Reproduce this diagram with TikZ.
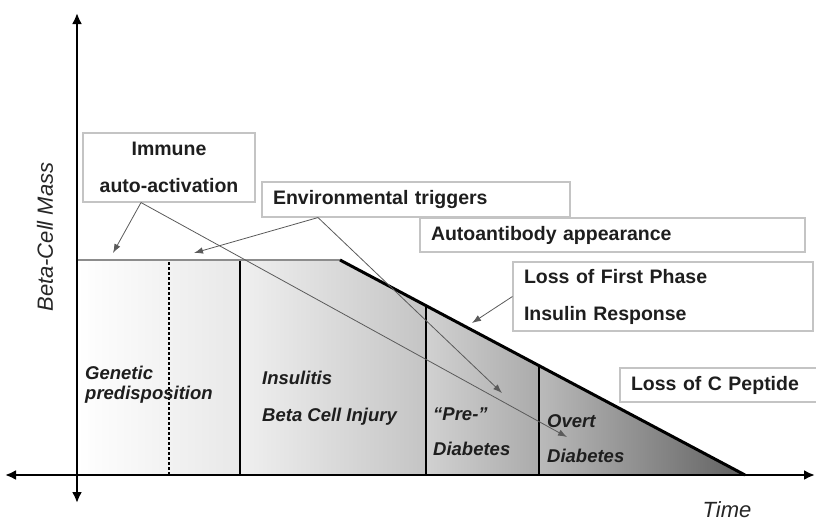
\documentclass[tikz,border=0pt]{standalone}
\usepackage{fontspec}
\setmainfont{Liberation Sans}
\usetikzlibrary{arrows.meta, positioning}
\definecolor{boxline}{HTML}{C4C4C4}
\definecolor{pointer}{HTML}{5A5A5A}
\definecolor{labeltext}{HTML}{1E1E1E}

\begin{document}
\begin{tikzpicture}[x=1pt, y=-1pt,
    axis/.style={line width=2.6pt, {Latex[length=11pt,width=10pt]}-{Latex[length=11pt,width=10pt]}},
    eventbox/.style={draw=boxline, line width=1.1pt, fill=white, inner xsep=11pt, text=labeltext, font=\bfseries\fontsize{19.5}{37}\selectfont},
    stagelabel/.style={anchor=north west, inner sep=0pt, align=left, text=labeltext, font=\bfseries\itshape\fontsize{18.5}{37}\selectfont},
    pointer/.style={draw=pointer, line width=0.8pt, -{Latex[length=9pt,width=6.5pt]}},
    divider/.style={line width=1.3pt}]

    \useasboundingbox (0,0) rectangle (816,522);

    \shade[left color=white, right color=black!9] (77,260) rectangle (240,475);
    \shade[left color=black!6, right color=black!23] (240,260) -- (340,260) -- (426,305.7) -- (426,475) -- (240,475) -- cycle;
    \shade[left color=black!18, right color=black!33] (426,305.7) -- (539,365.6) -- (539,475) -- (426,475) -- cycle;
    \shade[left color=black!27, right color=black!62] (539,365.6) -- (745,475) -- (539,475) -- cycle;

    \draw[divider, line width=2pt, dash pattern=on 2.5pt off 2.5pt] (169,262) -- (169,475);
    \draw[divider] (240,260) -- (240,475);
    \draw[divider] (426,305.7) -- (426,475);
    \draw[divider] (539,365.6) -- (539,475);

    \draw[line width=2pt, black!45] (77,260) -- (340,260);
    \draw[line width=3pt, line join=round] (340,260) -- (745,475);

    \draw[axis] (5,475) -- (815,475);
    \draw[axis] (77,503) -- (77,13);

    \node[rotate=90, text=black!85, font=\itshape\fontsize{22}{26}\selectfont] (masslabel) at (45,237) {Beta-Cell Mass};
    \node[text=black!85, inner sep=1pt, font=\itshape\fontsize{22}{26}\selectfont] (timelabel) at (727,510) {Time};

    \node[eventbox, minimum width=172pt, minimum height=69pt, align=center] (immune) at (169,167.5) {Immune\\auto-activation};
    \node[eventbox, minimum width=308pt, minimum height=35pt, text width=286pt, align=left] (envtrig) at (416,199.5) {Environmental triggers};
    \node[eventbox, minimum width=385pt, minimum height=34pt, text width=363pt, align=left] (autoab) at (612.5,235) {Autoantibody appearance};
    \node[eventbox, minimum width=300pt, minimum height=69pt, text width=278pt, align=left] (firstphase) at (663,296.5) {Loss of First Phase\\Insulin Response};
    \node[eventbox, minimum width=198pt, minimum height=34pt, text width=176pt, align=left] (cpeptide) at (719,385) {Loss of C Peptide};

    \coordinate (plateauA) at (113,253);
    \coordinate (plateauB) at (194,253);
    \coordinate (preTip) at (502,393);
    \coordinate (overtTip) at (567,437);
    \coordinate (slopeTip) at (472,323);

    \draw[pointer] ([xshift=-28pt]immune.south) -- (plateauA);
    \draw[pointer] ([xshift=-28pt]immune.south) -- (overtTip);
    \draw[pointer] ([xshift=-98pt]envtrig.south) -- (plateauB);
    \draw[pointer] ([xshift=-98pt]envtrig.south) -- (preTip);
    \draw[pointer] (firstphase.west) -- (slopeTip);

    \node[stagelabel, font=\bfseries\itshape\fontsize{18.5}{20}\selectfont] (genetic) at (85,365.5) {Genetic\\predisposition};
    \node[stagelabel] (insulitis) at (262,370.5) {Insulitis\\Beta Cell Injury};
    \node[stagelabel, font=\bfseries\itshape\fontsize{18.5}{35}\selectfont] (prediab) at (433,407.5) {“Pre-”\\Diabetes};
    \node[stagelabel, font=\bfseries\itshape\fontsize{18.5}{35}\selectfont] (overt) at (547,414.3) {Overt\\Diabetes};
\end{tikzpicture}
\end{document}
